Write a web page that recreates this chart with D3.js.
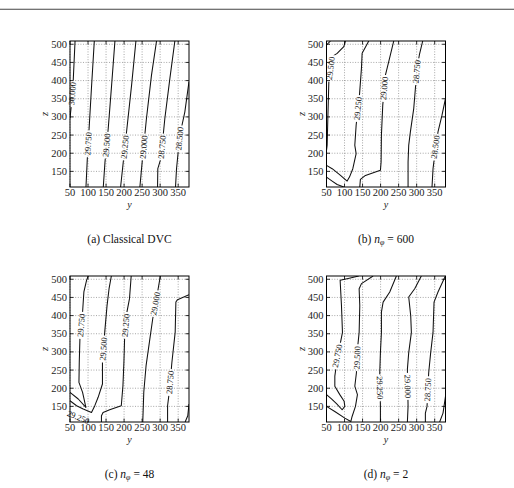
<!DOCTYPE html>
<html><head><meta charset="utf-8">
<script src="https://cdn.jsdelivr.net/npm/d3@7"></script>
<style>body{margin:0;background:#fff} svg{display:block}</style>
</head><body><svg id="c" width="514" height="488"></svg>
<script>
// ---------- data ----------
const yTicks = [50, 100, 150, 200, 250, 300, 350];
const zTicks = [150, 200, 250, 300, 350, 400, 450, 500];
const yDomain = [50, 380];
const zDomain = [107, 509];
const captions = ["(a) Classical DVC", "(b)", "(c)", "(d)"];
const nPhi = [null, "600", "48", "2"];

// contour polylines: [level, [[y, z], ...]]
const linesA = [
  ["30.000", [[64,509],[59,401],[54.6,341],[50,296]]],
  ["29.750", [[117.4,509],[110,387.6],[103.5,277],[98,185],[94.3,107]]],
  ["29.500", [[174.6,509],[165.4,387.6],[156,268],[147,175.8],[142.3,107]]],
  ["29.250", [[232.8,509],[220.8,387.6],[208.8,277],[197.7,175.8],[190.3,107]]],
  ["29.000", [[290,509],[276,415],[262,295.5],[251,185],[243.8,107]]],
  ["28.750", [[340.8,509],[327,406],[313,295.5],[302,185],[293.5,157.4],[292.8,107]]],
  ["28.500", [[380,397],[368.5,314],[354.6,249.5],[345.4,157.4],[342.6,107]]]
];
const linesB = [
  ["29.750", [[50,498],[61,509]]],
  ["29.500", [[102.6,509],[98,493.6],[79.5,475],[65.7,466],[56.5,396.8],[53.7,295.5],[51.8,222],[50,208]]],
  ["29.250", [[167.2,509],[148.8,475],[146.9,433.7],[141.4,360],[132.2,277],[128.5,221.8],[132.2,198.8],[123,157.4],[113.7,134.3],[107.2,123.3],[88.8,139],[65.7,157.4],[50,166.6]]],
  ["29.500", [[50,134.3],[65.7,123.3],[79.5,114],[98,107]]],
  ["29.000", [[236.5,509],[222.6,452],[213.4,415],[206,332.4],[202.3,249.5],[201.4,175.8],[199.5,152.8],[158,139],[144,128],[142.3,107]]],
  ["28.750", [[316.8,509],[307.5,470.5],[301,433.7],[296.5,378.4],[291.9,323],[282.6,258.7],[278,221.8],[276.2,175.8],[276.2,107]]],
  ["28.500", [[380,350.8],[370.3,304.7],[359.2,258.7],[350,194],[345.4,157.4],[342.6,107]]]
];
const linesC = [
  ["29.750", [[100.5,509],[95.9,497],[88.5,465],[84.9,409.7],[77.5,336],[75.7,271.6],[74.8,216],[84.9,188.7],[94,147.2],[72.9,170.3],[50,188.7]]],
  ["29.500", [[164.7,509],[158.3,474],[152.8,428],[146.3,354.5],[140,271.6],[140,211.7],[128,175],[118.8,152],[109.6,133.4],[86.7,142.6],[68.3,151.8],[50,165.6]]],
  ["29.250", [[50,133.4],[68.3,122.4],[91.3,113],[105,107]]],
  ["29.250", [[219.7,509],[215,446.6],[207.8,409.7],[201.4,336],[199.5,271.6],[196.8,207],[192.2,151.8],[160,140.8],[141.7,133.4],[137.2,124.2],[137.2,107]]],
  ["29.000", [[300.5,509],[293,465],[279.4,391.3],[270.2,326.8],[261,262.4],[254.6,188.7],[251.8,107]]],
  ["28.750", [[380,457.6],[348.2,443.8],[343.6,437.4],[341.7,354.5],[332.6,271.6],[325.2,188.7],[320.6,151.8],[320.6,107]]],
  ["28.500", [[380,156.4],[376.6,124.2],[369.3,107]]]
];
const linesD = [
  ["29.750", [[139.5,509],[110,502],[87.8,497.2],[91.5,427.8],[94.3,353.7],[86.9,316.7],[79.5,279.6],[73.1,233.3],[73.1,205.6],[86.9,182.4],[98.9,163.9],[100.8,150],[93.4,140.7],[77.7,157.4],[63.8,170.4],[50,182.4]]],
  ["29.500", [[179.2,509],[147,488],[140.5,474],[142.3,427.8],[140.5,353.7],[135.8,307.4],[133,242.6],[128.5,205.6],[135.8,182.4],[130.3,150],[121,122.2],[117.4,108.3],[100.8,117.6],[73,136],[50,150]]],
  ["29.250", [[243.8,509],[225.4,464.8],[207,437],[202.3,409.3],[202.3,353.7],[199.5,298],[197.7,242.6],[199.5,150],[199.5,107]]],
  ["29.000", [[313,509],[294.6,474],[278,451],[283.5,400],[285.4,353.7],[278,298],[274.3,252],[276.2,150],[274.3,107]]],
  ["28.750", [[379.6,509],[359.2,464.8],[348.2,437],[345.4,353.7],[338.9,298],[333.4,242.6],[328.8,150],[324.2,131.5],[324.2,107]]],
  ["28.500", [[380,177.8],[373.1,131.5],[363.8,107]]]
];
// inline contour labels: [text, y, z]
const labelsA = [["30.000",56.5,364],["29.750",100.5,226],["29.500",151.5,222],["29.250",202.3,217],["29.000",254.5,217],["28.750",305.2,217],["28.500",353.7,240]];
const labelsB = [["29.500",61.4,433.7],["29.250",137.2,323],["29.000",210,378.4],["28.750",300.3,424.5],["28.500",352,217]];
const labelsC = [["29.750",81.2,373],["29.500",142.7,308],["29.250",204.6,373],["29.000",287,433],["28.750",327.7,216],["29.250",73,120]];
const labelsD = [["29.750",80,289],["29.500",135,284],["29.250",198,201],["29.000",275,205],["28.750",331,196]];

// ---------- drawing ----------
const svg = d3.select("#c");
const FONT = "'Liberation Serif', 'DejaVu Serif', serif";
svg.append("line").attr("x1",0).attr("x2",514).attr("y1",9.3).attr("y2",9.3)
  .attr("stroke","#444").attr("stroke-width",1.1);

const W = 119, H = 146;
const origins = [[70,41],[326.5,41],[70,276],[326.5,276]];
const allLines = [linesA, linesB, linesC, linesD];
const allLabels = [labelsA, labelsB, labelsC, labelsD];

origins.forEach(([ox, oy], i) => {
  const x = d3.scaleLinear().domain(yDomain).range([0, W]);
  const y = d3.scaleLinear().domain(zDomain).range([H, 0]);
  const g = svg.append("g").attr("transform", `translate(${ox},${oy})`);

  // grid
  g.append("g").selectAll("line").data(yTicks).join("line")
    .attr("x1", d => x(d)).attr("x2", d => x(d)).attr("y1", 0).attr("y2", H)
    .attr("stroke", "#777").attr("stroke-width", 0.65).attr("stroke-dasharray", "1,1.6");
  g.append("g").selectAll("line").data(zTicks).join("line")
    .attr("y1", d => y(d)).attr("y2", d => y(d)).attr("x1", 0).attr("x2", W)
    .attr("stroke", "#777").attr("stroke-width", 0.65).attr("stroke-dasharray", "1,1.6");

  // clip + mask
  const defs = g.append("defs");
  defs.append("clipPath").attr("id", "clip" + i).append("rect").attr("width", W).attr("height", H);
  const mask = defs.append("mask").attr("id", "mask" + i).attr("maskUnits", "userSpaceOnUse")
    .attr("x", -5).attr("y", -5).attr("width", W + 10).attr("height", H + 10);
  mask.append("rect").attr("x", -5).attr("y", -5).attr("width", W + 10).attr("height", H + 10).attr("fill", "white");

  const line = d3.line().x(d => x(d[0])).y(d => y(d[1]));
  const cg = g.append("g").attr("clip-path", `url(#clip${i})`).append("g").attr("mask", `url(#mask${i})`);
  cg.selectAll("path").data(allLines[i]).join("path")
    .attr("d", d => line(d[1])).attr("fill", "none").attr("stroke", "#111").attr("stroke-width", 1.05)
    .attr("stroke-linejoin", "round");

  // labels
  allLabels[i].forEach(([txt, ly, lz]) => {
    const px = x(ly), py = y(lz);
    let best = null, bd = Infinity;
    allLines[i].filter(l => l[0] === txt).forEach(l => {
      const pts = l[1].map(p => [x(p[0]), y(p[1])]);
      for (let k = 0; k < pts.length - 1; k++) {
        const [ax, ay] = pts[k], [bx, by] = pts[k + 1];
        const dx = bx - ax, dy = by - ay;
        let t = ((px - ax) * dx + (py - ay) * dy) / (dx * dx + dy * dy);
        t = Math.max(0, Math.min(1, t));
        const cx = ax + t * dx, cy = ay + t * dy;
        const dd = (cx - px) ** 2 + (cy - py) ** 2;
        if (dd < bd) { bd = dd; best = [dx, dy]; }
      }
    });
    let ang = best ? Math.atan2(best[1], best[0]) * 180 / Math.PI : 0;
    if (ang > 90) ang -= 180;
    if (ang <= -90) ang += 180;
    const t = g.append("text").attr("transform", `translate(${px},${py}) rotate(${ang})`)
      .attr("text-anchor", "middle").attr("dy", "0.33em")
      .attr("font-family", FONT).attr("font-size", 8.5).attr("fill", "#111").text(txt);
    const tw = t.node().getComputedTextLength();
    mask.append("rect").attr("transform", `translate(${px},${py}) rotate(${ang})`)
      .attr("x", -tw / 2 - 1.8).attr("y", -3.6).attr("width", tw + 3.6).attr("height", 7.2).attr("fill", "black");
  });

  // frame
  g.append("rect").attr("width", W).attr("height", H).attr("fill", "none").attr("stroke", "#000").attr("stroke-width", 1);

  // ticks (inward, all sides)
  const tk = 3.5;
  yTicks.forEach(v => {
    g.append("line").attr("x1", x(v)).attr("x2", x(v)).attr("y1", H).attr("y2", H - tk).attr("stroke", "#000").attr("stroke-width", 0.8);
    g.append("line").attr("x1", x(v)).attr("x2", x(v)).attr("y1", 0).attr("y2", tk).attr("stroke", "#000").attr("stroke-width", 0.8);
  });
  zTicks.forEach(v => {
    g.append("line").attr("y1", y(v)).attr("y2", y(v)).attr("x1", 0).attr("x2", tk).attr("stroke", "#000").attr("stroke-width", 0.8);
    g.append("line").attr("y1", y(v)).attr("y2", y(v)).attr("x1", W).attr("x2", W - tk).attr("stroke", "#000").attr("stroke-width", 0.8);
  });

  // tick labels
  g.append("g").selectAll("text").data(yTicks).join("text")
    .attr("x", d => x(d)).attr("y", H + 9).attr("text-anchor", "middle")
    .attr("font-family", FONT).attr("font-size", 10.5).attr("fill", "#222").text(d => d);
  g.append("g").selectAll("text").data(zTicks).join("text")
    .attr("x", -3).attr("y", d => y(d)).attr("dy", "0.33em").attr("text-anchor", "end")
    .attr("font-family", FONT).attr("font-size", 10.5).attr("fill", "#222").text(d => d);

  // axis labels
  g.append("text").attr("x", W / 2).attr("y", H + 20.5).attr("text-anchor", "middle")
    .attr("font-family", FONT).attr("font-style", "italic").attr("font-size", 10).attr("fill", "#222").text("y");
  g.append("text").attr("transform", `translate(-22,${H / 2}) rotate(-90)`).attr("text-anchor", "middle")
    .attr("font-family", FONT).attr("font-style", "italic").attr("font-size", 10.5).attr("fill", "#222").text("z");

  // caption
  const cap = g.append("text").attr("x", W / 2).attr("y", H + 56).attr("text-anchor", "middle")
    .attr("font-family", FONT).attr("font-size", 11.5).attr("fill", "#111");
  cap.append("tspan").text(captions[i]);
  if (nPhi[i]) {
    cap.append("tspan").text(" ");
    cap.append("tspan").attr("font-style", "italic").text("n");
    cap.append("tspan").attr("font-style", "italic").attr("font-size", 8).attr("dy", 2).text("φ");
    cap.append("tspan").attr("dy", -2).text(" = " + nPhi[i]);
  }
});
</script></body></html>
